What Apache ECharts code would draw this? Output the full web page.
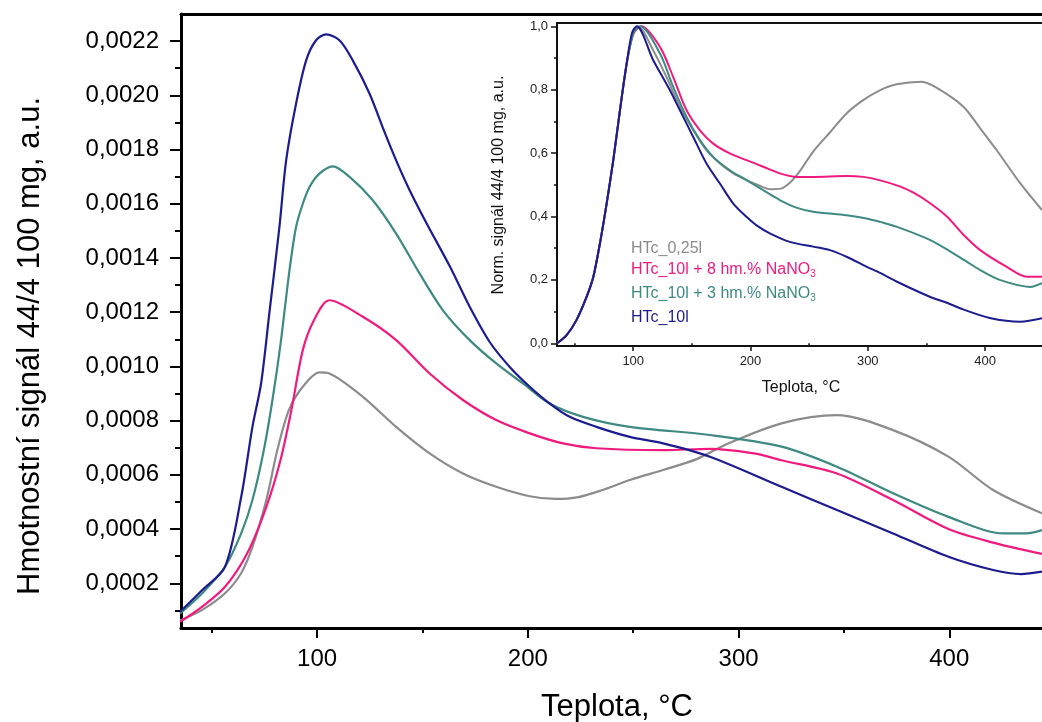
<!DOCTYPE html>
<html><head><meta charset="utf-8">
<script src="https://cdn.jsdelivr.net/npm/echarts@6/dist/echarts.min.js"></script>
<style>html,body{margin:0;padding:0;background:#fff}#c{width:1042px;height:722px}</style>
</head><body><div id="c"></div>
<script>
// ---- labels ----
const seriesNames = ['HTc_0,25l', 'HTc_10l + 8 hm.% NaNO3', 'HTc_10l + 3 hm.% NaNO3', 'HTc_10l'];
const legendLabels = ['HTc_0,25l', 'HTc_10l + 8 hm.% NaNO{s|3}', 'HTc_10l + 3 hm.% NaNO{s|3}', 'HTc_10l'];
const mainYTitle = 'Hmotnostní signál 44/4 100 mg, a.u.';
const insetYTitle = 'Norm. signál 44/4 100 mg, a.u.';
const xTitle = 'Teplota, °C';

// ---- tick values ----
const xMajor = [100, 200, 300, 400];
const xMinor = [50, 150, 250, 350];
const yMajorMain = [0.0002, 0.0004, 0.0006, 0.0008, 0.0010, 0.0012, 0.0014, 0.0016, 0.0018, 0.0020, 0.0022];
const yMinorMain = [0.0001, 0.0003, 0.0005, 0.0007, 0.0009, 0.0011, 0.0013, 0.0015, 0.0017, 0.0019, 0.0021];
const yMajorInset = [0, 0.2, 0.4, 0.6, 0.8, 1.0];
const yMinorInset = [0.1, 0.3, 0.5, 0.7, 0.9];

// ---- main chart data (temperature °C, signal) ----
const grayT = [35, 45.5, 56.3, 64, 69.3, 75.9, 81.1, 86.6, 93.2, 101.1, 105.8, 121.7, 137.5, 153.4, 169.2, 185, 200.9, 213, 224, 235, 248.4, 264.2, 280.1, 294, 320.4, 346.7, 373.3, 399.6, 420.8, 444];
const grayY = [0.000063, 0.000102, 0.000163, 0.000238, 0.000334, 0.000507, 0.000691, 0.000839, 0.000925, 0.000978, 0.000974, 0.000888, 0.000777, 0.000679, 0.000605, 0.000556, 0.000521, 0.000511, 0.000518, 0.000543, 0.000581, 0.000618, 0.000658, 0.000712, 0.00079, 0.00082, 0.000765, 0.000667, 0.000544, 0.000458];

const pinkT = [35, 45.5, 56.3, 66.9, 75.9, 82.6, 87.8, 93.2, 98.5, 105.8, 121.7, 137.5, 153.4, 169.2, 185, 200.9, 216.7, 232.5, 264.2, 286.4, 307.3, 320.4, 346.7, 373.3, 399.6, 420.8, 444];
const pinkY = [0.000058, 0.000114, 0.000187, 0.000312, 0.000482, 0.000654, 0.000839, 0.00106, 0.00117, 0.001244, 0.001183, 0.001097, 0.000974, 0.000876, 0.000802, 0.000753, 0.000716, 0.000698, 0.000691, 0.000696, 0.000679, 0.000654, 0.000605, 0.000507, 0.0004, 0.00035, 0.000308];

const tealT = [35, 45.5, 56.3, 64, 69.3, 74.7, 78.8, 82.6, 86.8, 90, 93.2, 96.4, 101.1, 107.4, 115.4, 126.4, 137.5, 148.6, 159.7, 172.4, 185, 197.7, 210.4, 226.2, 248.4, 286.4, 320.4, 346.7, 373.3, 399.6, 425.9, 436.5, 444];
const tealY = [0.000089, 0.000163, 0.000261, 0.000385, 0.000507, 0.000691, 0.000876, 0.00108, 0.00135, 0.001514, 0.0016, 0.001662, 0.001711, 0.001738, 0.001699, 0.001613, 0.00149, 0.001343, 0.001207, 0.001097, 0.001011, 0.000937, 0.000863, 0.000814, 0.000777, 0.000747, 0.000704, 0.00063, 0.000532, 0.000445, 0.000384, 0.000384, 0.000396];

const navyT = [35, 45.5, 56.3, 64, 69.3, 73.4, 77.3, 82.1, 85.3, 90, 94.8, 99.5, 104.3, 110.6, 116.9, 124.9, 131.2, 137.5, 143.9, 151.8, 162.9, 172.4, 181.9, 191.4, 200.9, 210.4, 219.9, 232.5, 248.4, 264.2, 286.4, 320.4, 346.7, 373.3, 399.6, 420.8, 434, 444];
const navyY = [0.000095, 0.000175, 0.000261, 0.00052, 0.000777, 0.000937, 0.001195, 0.001514, 0.00176, 0.001969, 0.002129, 0.002203, 0.002225, 0.002203, 0.002129, 0.002006, 0.00188, 0.00176, 0.00165, 0.00153, 0.00137, 0.00122, 0.00109, 0.000998, 0.000925, 0.000863, 0.000814, 0.000777, 0.00074, 0.000716, 0.000667, 0.000556, 0.00047, 0.000384, 0.000298, 0.000249, 0.000234, 0.000243];

// ---- inset data (temperature °C, normalized signal) ----
const nGrayT = [35, 43.2, 51.7, 60.3, 66, 71.6, 77.3, 83, 88.7, 94.4, 100, 104, 117.1, 128.4, 139.8, 151.2, 162.5, 173.9, 185.3, 196.6, 208, 217, 226, 234, 242.1, 253.5, 267.7, 281.9, 296.1, 310.3, 324.5, 346, 361.4, 381.6, 395.5, 410, 430, 448.6];
const nGrayY = [0, 0.026, 0.074, 0.147, 0.21, 0.315, 0.44, 0.578, 0.735, 0.882, 0.977, 1.0, 0.924, 0.84, 0.746, 0.672, 0.609, 0.567, 0.536, 0.515, 0.497, 0.486, 0.488, 0.508, 0.543, 0.605, 0.665, 0.725, 0.767, 0.798, 0.817, 0.825, 0.80, 0.746, 0.68, 0.609, 0.505, 0.42];

const nPinkT = [35, 43.2, 51.7, 60.3, 66, 71.6, 77.3, 83, 88.7, 94.4, 100, 107, 122.8, 134.1, 145.5, 156.9, 168.2, 182.4, 196.6, 210.8, 225, 239.2, 253.5, 281.9, 296.1, 310.6, 327.3, 339, 352, 367.5, 381, 395.9, 418.6, 435.7, 448.6];
const nPinkY = [0, 0.026, 0.074, 0.147, 0.21, 0.315, 0.44, 0.578, 0.735, 0.882, 0.975, 1.0, 0.935, 0.84, 0.735, 0.672, 0.63, 0.599, 0.578, 0.557, 0.536, 0.525, 0.525, 0.528, 0.525, 0.514, 0.495, 0.475, 0.445, 0.40, 0.345, 0.294, 0.241, 0.21, 0.21];

const nTealT = [35, 43.2, 51.7, 60.3, 66, 71.6, 77.3, 83, 88.7, 94.4, 100, 106, 122.8, 134.1, 145.5, 156.9, 168.2, 182.4, 196.6, 210.8, 225, 239.2, 253.5, 281.9, 298.9, 310.6, 324.5, 353, 381.3, 395.9, 412.5, 438.5, 448.6];
const nTealY = [0, 0.026, 0.074, 0.147, 0.21, 0.315, 0.44, 0.578, 0.735, 0.882, 0.977, 1.0, 0.914, 0.809, 0.714, 0.641, 0.588, 0.546, 0.515, 0.483, 0.452, 0.428, 0.415, 0.404, 0.394, 0.383, 0.368, 0.326, 0.265, 0.231, 0.2, 0.178, 0.19];

const nNavyT = [35, 43.2, 51.7, 60.3, 66, 71.6, 77.3, 83, 88.7, 94.4, 99, 103, 117.1, 131.3, 139.8, 151.2, 162.5, 173.9, 185.3, 196.6, 205.2, 216.5, 233.6, 253.5, 267.7, 281.9, 298.9, 310.6, 324.5, 352.9, 367.5, 381.3, 404, 430, 448.6];
const nNavyY = [0, 0.026, 0.074, 0.147, 0.21, 0.315, 0.44, 0.578, 0.735, 0.882, 0.98, 1.0, 0.893, 0.798, 0.735, 0.651, 0.567, 0.504, 0.441, 0.399, 0.372, 0.347, 0.32, 0.305, 0.294, 0.273, 0.242, 0.222, 0.195, 0.147, 0.128, 0.107, 0.08, 0.068, 0.079];

// ---- styles ----
const colors = ['#8c8c8c', '#f01a7e', '#3e8a82', '#1c1c8e'];
const FONT = 'Liberation Sans, Arial, sans-serif';

const mainSets = [[grayT, grayY], [pinkT, pinkY], [tealT, tealY], [navyT, navyY]];
const insetSets = [[nGrayT, nGrayY], [nPinkT, nPinkY], [nTealT, nTealY], [nNavyT, nNavyY]];
const pairs = (t, v) => t.map((x, i) => [x, v[i]]);

const series = [];
mainSets.forEach((s, i) => series.push({
  name: seriesNames[i], type: 'line', xAxisIndex: 0, yAxisIndex: 0,
  data: pairs(s[0], s[1]), showSymbol: false, smooth: 0.3,
  lineStyle: { color: colors[i], width: 2.2 }, itemStyle: { color: colors[i] }
}));
insetSets.forEach((s, i) => series.push({
  name: seriesNames[i] + ' (norm.)', type: 'line', xAxisIndex: 3, yAxisIndex: 2,
  data: pairs(s[0], s[1]), showSymbol: false, smooth: 0.3,
  lineStyle: { color: colors[i], width: 2 }, itemStyle: { color: colors[i] }
}));

const hidden = { show: false };
function xAx(grid, min, max, pos, opts) {
  return Object.assign({ gridIndex: grid, type: 'value', min: min, max: max, position: pos,
    splitLine: hidden, axisLine: hidden, axisTick: hidden, axisLabel: hidden }, opts);
}
function yAx(grid, min, max, opts) {
  return Object.assign({ gridIndex: grid, type: 'value', min: min, max: max, position: 'left',
    splitLine: hidden, axisLine: hidden, axisTick: hidden, axisLabel: hidden }, opts);
}
const fmtMain = v => v.toFixed(4).replace('.', ',');
const fmtInset = v => v.toFixed(1).replace('.', ',');

const option = {
  animation: false,
  backgroundColor: '#fff',
  grid: [
    { left: 181, top: 14, right: 0, bottom: 94, outerBoundsMode: 'none' },
    { left: 557, top: 23, right: 0, bottom: 376, outerBoundsMode: 'none' }
  ],
  xAxis: [
    xAx(0, 35.4, 444, 'bottom', {
      axisLine: { show: true, onZero: false, lineStyle: { color: '#000', width: 3 } },
      axisTick: { show: true, customValues: xMajor, length: 10, lineStyle: { color: '#000', width: 2 } },
      axisLabel: { show: true, customValues: xMajor, fontSize: 24, color: '#000', fontFamily: FONT, margin: 19 }
    }),
    xAx(0, 35.4, 444, 'bottom', {
      axisTick: { show: true, customValues: xMinor, length: 5, lineStyle: { color: '#000', width: 2 } }
    }),
    xAx(0, 35.4, 444, 'top', {
      axisLine: { show: true, onZero: false, lineStyle: { color: '#000', width: 3 } }
    }),
    xAx(1, 35, 448.6, 'bottom', {
      axisLine: { show: true, onZero: false, lineStyle: { color: '#111', width: 2 } },
      axisTick: { show: true, customValues: xMajor, length: 5, lineStyle: { color: '#111', width: 1.5 } },
      axisLabel: { show: true, customValues: xMajor, fontSize: 13, color: '#222', fontFamily: FONT, margin: 9 }
    }),
    xAx(1, 35, 448.6, 'bottom', {
      axisTick: { show: true, customValues: xMinor, length: 3, lineStyle: { color: '#111', width: 1.5 } }
    }),
    xAx(1, 35, 448.6, 'top', {
      axisLine: { show: true, onZero: false, lineStyle: { color: '#111', width: 2 } }
    })
  ],
  yAxis: [
    yAx(0, 0.000035, 0.0023, {
      axisLine: { show: true, onZero: false, lineStyle: { color: '#000', width: 3 } },
      axisTick: { show: true, customValues: yMajorMain, length: 11, lineStyle: { color: '#000', width: 2 } },
      axisLabel: { show: true, customValues: yMajorMain, fontSize: 24, color: '#000', fontFamily: FONT, margin: 22, formatter: fmtMain }
    }),
    yAx(0, 0.000035, 0.0023, {
      axisTick: { show: true, customValues: yMinorMain, length: 6, lineStyle: { color: '#000', width: 2 } }
    }),
    yAx(1, -0.0085, 1.0104, {
      axisLine: { show: true, onZero: false, lineStyle: { color: '#111', width: 2 } },
      axisTick: { show: true, customValues: yMajorInset, length: 6, lineStyle: { color: '#111', width: 1.5 } },
      axisLabel: { show: true, customValues: yMajorInset, fontSize: 13, color: '#222', fontFamily: FONT, margin: 9, formatter: fmtInset }
    }),
    yAx(1, -0.0085, 1.0104, {
      axisTick: { show: true, customValues: yMinorInset, length: 3, lineStyle: { color: '#111', width: 1.5 } }
    })
  ],
  graphic: [
    { type: 'text', x: 30, y: 346, rotation: Math.PI / 2,
      style: { text: mainYTitle, font: '31px ' + FONT, fill: '#000', align: 'center', verticalAlign: 'middle' } },
    { type: 'text', x: 617, y: 707,
      style: { text: xTitle, font: '31px ' + FONT, fill: '#000', align: 'center', verticalAlign: 'middle' } },
    { type: 'text', x: 499, y: 185, rotation: Math.PI / 2,
      style: { text: insetYTitle, font: '16px ' + FONT, fill: '#111', align: 'center', verticalAlign: 'middle' } },
    { type: 'text', x: 801, y: 388,
      style: { text: xTitle, font: '16px ' + FONT, fill: '#111', align: 'center', verticalAlign: 'middle' } }
  ].concat(legendLabels.map((t, i) => ({
    type: 'text', x: 631, y: [249, 269.5, 293.5, 318][i],
    style: { text: t, font: '16px ' + FONT, fill: colors[i], align: 'left', verticalAlign: 'middle',
      rich: { s: { fontSize: 10, fontFamily: FONT, fill: colors[i], padding: [9, 0, 0, 0] } } }
  }))),
  series: series
};
const chart = echarts.init(document.getElementById('c'), null, { renderer: 'canvas' });
chart.setOption(option);
</script></body></html>
